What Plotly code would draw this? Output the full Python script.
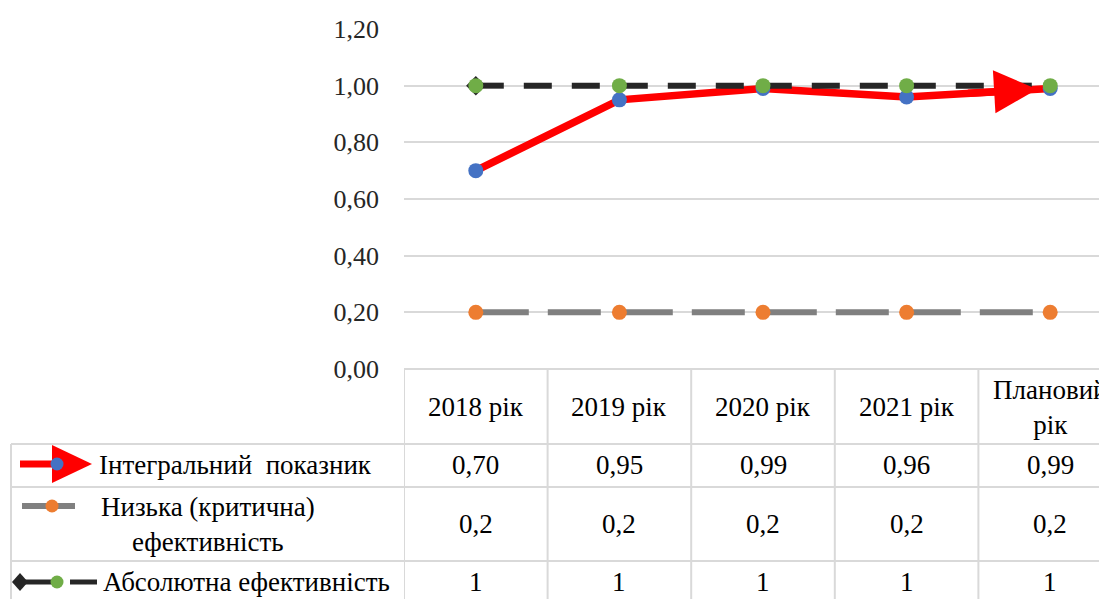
import plotly.graph_objects as go

# ---------------- data ----------------
categories = ["2018 рік", "2019 рік", "2020 рік", "2021 рік", "Плановий рік"]
header_labels = ["2018 рік", "2019 рік", "2020 рік", "2021 рік", "Плановий<br>рік"]
integral = [0.70, 0.95, 0.99, 0.96, 0.99]
low_eff = [0.2, 0.2, 0.2, 0.2, 0.2]
abs_eff = [1, 1, 1, 1, 1]
series_names = ["Інтегральний\u00a0\u00a0показник", "Низька (критична)<br>ефективність", "Абсолютна ефективність"]
y_ticks = [0.0, 0.2, 0.4, 0.6, 0.8, 1.0, 1.2]

# ---------------- layout constants ----------------
OFF = 8                     # page offset of the figure inside the window
W, H = 1107 - OFF, 599 - OFF
PLOT_L, PLOT_T, PLOT_B = 404, 29, 369
COL_W = 143.6
FONT = "Liberation Serif"
FS_TICK = 26
FS = 27
GRID = "#d9d9d9"
RED, BLUE, GRAY, ORANGE, BLACK, GREEN = "#ff0000", "#4472c4", "#808080", "#ed7d31", "#262626", "#70ad47"


def px(x):
    return (x - OFF) / W


def py(y):
    return 1 - (y - OFF) / H


xs = list(range(len(categories)))

fig = go.Figure()

fig.add_trace(go.Scatter(
    x=xs, y=integral, mode="lines+markers", name=series_names[0],
    line=dict(color=RED, width=7.5),
    marker=dict(color=BLUE, size=15, line=dict(width=0)),
))
fig.add_trace(go.Scatter(
    x=xs, y=low_eff, mode="lines+markers", name=series_names[1],
    line=dict(color=GRAY, width=6, dash="53px,19px"),
    marker=dict(color=ORANGE, size=15, line=dict(width=0)),
))
fig.add_trace(go.Scatter(
    x=xs[:1], y=abs_eff[:1], mode="markers", showlegend=False,
    marker=dict(color=BLACK, size=15, symbol="diamond", line=dict(width=0)),
))
fig.add_trace(go.Scatter(
    x=xs, y=abs_eff, mode="lines+markers", name=series_names[2],
    line=dict(color=BLACK, width=6, dash="28px,20px"),
    marker=dict(color=GREEN, size=15, line=dict(width=0)),
))

# arrow head on the last segment of the integral series
fig.add_annotation(
    x=xs[-1], y=integral[-1], xref="x", yref="y",
    ax=xs[-2], ay=integral[-2], axref="x", ayref="y",
    text="", showarrow=True, arrowhead=2, arrowsize=1.15, arrowwidth=7.5,
    arrowcolor=RED, standoff=13, arrowside="end+start", startarrowhead=0,
    startstandoff=60,
)

shapes = []
line_style = dict(color=GRID, width=2)
# column boundaries
for b in [i - 0.5 for i in xs]:
    shapes.append(dict(type="line", xref="x", yref="paper", x0=b, x1=b,
                       y0=py(370), y1=0, line=line_style, layer="above"))
# left border of the legend column
shapes.append(dict(type="line", xref="paper", yref="paper", x0=px(11), x1=px(11),
                   y0=py(444), y1=0, line=line_style))
# row separators
for yy in [444, 487, 561]:
    shapes.append(dict(type="line", xref="paper", yref="paper", x0=px(11), x1=1,
                       y0=py(yy), y1=py(yy), line=line_style))


def hline(x0, x1, y, color, width):
    return dict(type="line", xref="paper", yref="paper", x0=px(x0), x1=px(x1),
                y0=py(y), y1=py(y), line=dict(color=color, width=width))


def circ(cx, cy, r, color):
    return dict(type="circle", xref="paper", yref="paper",
                x0=px(cx - r), x1=px(cx + r), y0=py(cy + r), y1=py(cy - r),
                fillcolor=color, line=dict(width=0))


def poly(pts, color):
    d = "M " + " L ".join(f"{px(a)},{py(b)}" for a, b in pts) + " Z"
    return dict(type="path", xref="paper", yref="paper", path=d,
                fillcolor=color, line=dict(width=0))


# legend keys
shapes.append(hline(20, 55, 464, RED, 7))
shapes.append(poly([(52, 445), (92, 464), (52, 483)], RED))
shapes.append(circ(57, 464, 6.5, BLUE))

shapes.append(hline(22, 75, 506, GRAY, 6))
shapes.append(circ(52, 506, 6.5, ORANGE))

shapes.append(poly([(12, 582), (20, 573), (28, 582), (20, 591)], BLACK))
shapes.append(hline(20, 52, 582, BLACK, 5))
shapes.append(circ(57, 582, 6.5, GREEN))
shapes.append(hline(70, 97, 582, BLACK, 5))

annotations = []
tf = dict(family=FONT, size=FS, color="black")
for i, lab in zip(xs, header_labels):
    annotations.append(dict(x=i, y=py(407), xref="x", yref="paper", text=lab,
                            showarrow=False, font=tf, xanchor="center", yanchor="middle"))


def fmt2(v):
    return f"{v:.2f}".replace(".", ",")


def fmtg(v):
    return f"{v:g}".replace(".", ",")


rows = [(integral, fmt2, 465), (low_eff, fmtg, 524), (abs_eff, fmtg, 582)]
for vals, f, yy in rows:
    for i, v in zip(xs, vals):
        annotations.append(dict(x=i, y=py(yy), xref="x", yref="paper", text=f(v),
                                showarrow=False, font=tf, xanchor="center", yanchor="middle"))

annotations.append(dict(x=px(235), y=py(465), xref="paper", yref="paper", text=series_names[0],
                        showarrow=False, font=tf, xanchor="center", yanchor="middle"))
annotations.append(dict(x=px(208), y=py(524), xref="paper", yref="paper", text=series_names[1],
                        showarrow=False, font=tf, xanchor="center", yanchor="middle"))
annotations.append(dict(x=px(246), y=py(582), xref="paper", yref="paper", text=series_names[2],
                        showarrow=False, font=tf, xanchor="center", yanchor="middle"))

fig.update_layout(
    width=W, height=H,
    margin=dict(l=0, r=0, t=0, b=0, autoexpand=False),
    paper_bgcolor="white", plot_bgcolor="white",
    showlegend=False,
    separators=", ",
    font=dict(family=FONT),
    shapes=shapes,
    xaxis=dict(domain=[px(PLOT_L), 1], range=[-0.5, -0.5 + (1107 - PLOT_L) / COL_W],
               showticklabels=False, showgrid=False, zeroline=False, showline=False,
               fixedrange=True, automargin=False),
    yaxis=dict(domain=[py(PLOT_B), py(PLOT_T)], range=[0, 1.2], tickvals=y_ticks,
               tickformat=".2f", showgrid=True, gridcolor=GRID, gridwidth=2,
               zeroline=True, zerolinecolor=GRID, zerolinewidth=2, showline=False,
               ticks="", ticklabelstandoff=24, automargin=False,
               tickfont=dict(family=FONT, size=FS_TICK, color=BLACK), fixedrange=True),
)
for a in annotations:
    fig.add_annotation(**a)

fig.write_html("out.html")
